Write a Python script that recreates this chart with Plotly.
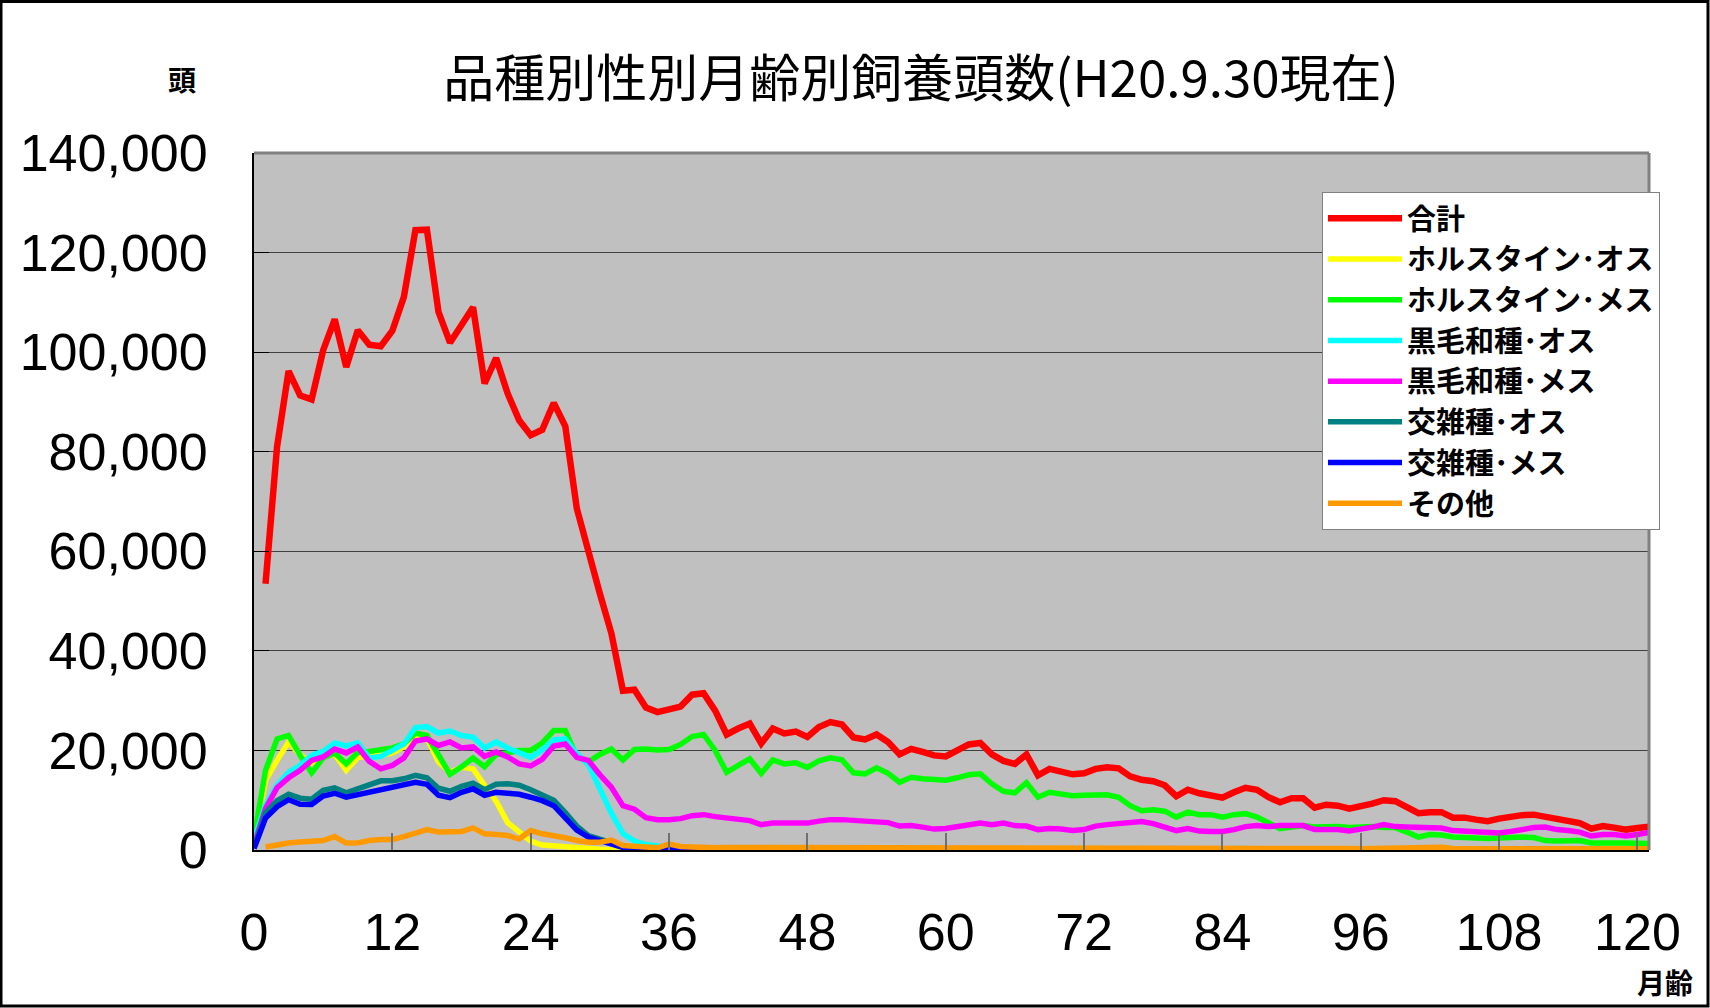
import plotly.graph_objects as go

# ---------------- data ----------------
months = list(range(0, 122))
x_tick_vals = [0, 12, 24, 36, 48, 60, 72, 84, 96, 108, 120]
y_tick_vals = [0, 20000, 40000, 60000, 80000, 100000, 120000, 140000]

series_names = ["合計", "ホルスタイン･オス", "ホルスタイン･メス", "黒毛和種･オス",
                "黒毛和種･メス", "交雑種･オス", "交雑種･メス", "その他"]
series_colors = ["#FF0000", "#FFFF00", "#00FF00", "#00FFFF",
                 "#FF00FF", "#008080", "#0000FF", "#FF9900"]

total = [None, 53500, 81000, 96200, 91300, 90500, 100400, 106600, 97000, 104400, 101500, 101200,
         104300, 111100, 124500, 124600, 108100, 101900, 105600, 109000, 93700, 98800, 91700, 86300,
         83300, 84400, 89800, 85100, 68600, 59800, 51500, 43500, 32000, 32200, 28600, 27700,
         28400, 28800, 31200, 31500, 28000, 23200, 24400, 25400, 21400, 24400, 23400, 23800,
         22700, 24700, 25700, 25200, 22600, 22200, 23200, 21700, 19200, 20300, 19700, 19000,
         18800, 20000, 21200, 21500, 19200, 17900, 17300, 19200, 15000, 16300, 15800, 15200,
         15400, 16300, 16600, 16400, 14800, 14100, 13800, 13000, 10800, 12100, 11400, 11100,
         10500, 11600, 12500, 12100, 10600, 9600, 10400, 10400, 8500, 9100, 8900, 8300,
         8700, 9300, 10000, 9800, 8600, 7400, 7600, 7600, 6500, 6500, 6100, 5800,
         6300, 6700, 7000, 7100, 6700, 6100, 5700, 5400, 4300, 4800, 4500, 4100,
         4400, 4700]

holstein_m = [1500, 14000, 18000, 21700, 19100, 17500, 18900, 19200, 16000, 18600, 18900, 19000,
              19500, 20700, 22500, 22500, 17700, 15600, 16600, 16300, 13000, 9800, 5500, 3500,
              1800, 1000, 800, 600, 450, 300, 150, 80, 40, 20, 10, 10,
              10, 10, 10, 10, 10, 10, 10, 10, 10, 10, 10, 10,
              10, 10, 10, 10, 10, 10, 10, 10, 10, 10, 10, 10,
              10, 10, 10, 10, 10, 10, 10, 10, 10, 10, 10, 10,
              10, 10, 10, 10, 10, 10, 10, 10, 10, 10, 10, 10,
              10, 10, 10, 10, 10, 10, 10, 10, 10, 10, 10, 10,
              10, 10, 10, 10, 10, 10, 10, 10, 10, 10, 10, 10,
              10, 10, 10, 10, 10, 10, 10, 10, 10, 10, 10, 10,
              10, 10]

holstein_f = [2500, 16000, 22300, 23000, 19000, 15500, 18500, 19500, 17300, 19600, 19800, 20200,
              20500, 21300, 23500, 23000, 19300, 15200, 16700, 18500, 16700, 19200, 19500, 20000,
              20000, 21500, 24000, 24000, 18700, 17700, 19200, 20300, 18100, 20200, 20300, 20100,
              20200, 21200, 22800, 23200, 20000, 15600, 17000, 18300, 15400, 18100, 17300, 17500,
              16600, 17900, 18500, 18100, 15500, 15300, 16500, 15400, 13600, 14600, 14300, 14200,
              14000, 14500, 15100, 15300, 13300, 11800, 11500, 13500, 10600, 11600, 11300, 10900,
              11000, 11000, 11100, 10600, 8900, 7900, 8100, 7800, 6600, 7600, 7100, 7100,
              6600, 7100, 7300, 6600, 5300, 4300, 4600, 4900, 4600, 4700, 4700, 4500,
              4600, 4700, 4500, 4500, 3600, 2600, 3100, 3000, 2600, 2600, 2400, 2300,
              2400, 2600, 2600, 2500, 1900, 1800, 1800, 1900, 1400, 1500, 1400, 1400,
              1300, 1300]

wagyu_m = [2000, 9000, 13000, 15600, 17000, 19000, 19800, 21500, 20900, 21500, 18500, 18800,
           20000, 21300, 24600, 24800, 23500, 23900, 23000, 22700, 20500, 21700, 20500, 19500,
           18600, 20100, 22100, 22300, 19300, 17200, 12000, 7400, 3300, 1800, 1100, 700,
           500, 300, 200, 150, 100, 100, 100, 100, 100, 100, 100, 100,
           80, 80, 80, 80, 80, 80, 80, 80, 80, 80, 80, 80,
           60, 60, 60, 60, 60, 60, 60, 60, 60, 60, 60, 60,
           50, 50, 50, 50, 50, 50, 50, 50, 50, 50, 50, 50,
           40, 40, 40, 40, 40, 40, 40, 40, 40, 40, 40, 40,
           30, 30, 30, 30, 30, 30, 30, 30, 30, 30, 30, 30,
           30, 30, 30, 30, 30, 30, 30, 30, 30, 30, 30, 30,
           30, 30]

wagyu_f = [1000, 8300, 12500, 14500, 16000, 18000, 18700, 20300, 19500, 20700, 17800, 16300,
           17000, 18500, 21900, 22300, 21000, 21700, 20500, 20700, 18800, 19700, 18700, 17300,
           16900, 18200, 20900, 21300, 18600, 18000, 15100, 12600, 8900, 8200, 6500, 6100,
           6100, 6300, 6900, 7100, 6700, 6500, 6300, 5900, 5100, 5400, 5400, 5400,
           5400, 5800, 6100, 6100, 5900, 5900, 5600, 5500, 4800, 4900, 4600, 4200,
           4300, 4600, 5100, 5400, 5100, 5400, 4900, 4800, 4100, 4300, 4200, 3900,
           4100, 4800, 5100, 5300, 5400, 5700, 5300, 4700, 3900, 4300, 3800, 3700,
           3700, 4100, 4700, 4900, 4700, 4900, 4900, 4900, 4100, 4100, 4100, 3800,
           4100, 4600, 5100, 4700, 4600, 4600, 4500, 4400, 3900, 3800, 3600, 3400,
           3400, 3700, 4100, 4500, 4600, 4100, 3900, 3600, 2800, 3100, 3100, 2800,
           3100, 3500]

cross_m = [500, 7500, 9900, 11200, 10400, 10200, 12000, 12500, 11500, 12300, 13100, 13900,
           13900, 14300, 15000, 14500, 12400, 11800, 12800, 13400, 12100, 13200, 13300, 13000,
           12100, 11150, 10000, 7500, 4800, 2900, 2200, 1500, 800, 400, 200, 100,
           100, 100, 100, 100, 80, 80, 80, 80, 80, 80, 80, 80,
           60, 60, 60, 60, 60, 60, 60, 60, 60, 60, 60, 60,
           50, 50, 50, 50, 50, 50, 50, 50, 50, 50, 50, 50,
           40, 40, 40, 40, 40, 40, 40, 40, 40, 40, 40, 40,
           30, 30, 30, 30, 30, 30, 30, 30, 30, 30, 30, 30,
           30, 30, 30, 30, 30, 30, 30, 30, 30, 30, 30, 30,
           20, 20, 20, 20, 20, 20, 20, 20, 20, 20, 20, 20,
           20, 20]

cross_f = [300, 6400, 8700, 10100, 9200, 9150, 10850, 11400, 10600, 11100, 11500, 12100,
           12600, 13100, 13600, 13200, 11000, 10500, 11600, 12300, 11000, 11600, 11500, 11200,
           10600, 9900, 8900, 6600, 4000, 2600, 1950, 1250, 500, 200, 100, 100,
           250, 100, 80, 80, 80, 80, 80, 80, 80, 80, 80, 80,
           60, 60, 60, 60, 60, 60, 60, 60, 60, 60, 60, 60,
           50, 50, 50, 50, 50, 50, 50, 50, 50, 50, 50, 50,
           40, 40, 40, 40, 40, 40, 40, 120, 40, 40, 40, 40,
           30, 30, 30, 30, 30, 30, 30, 30, 30, 30, 30, 30,
           30, 30, 30, 30, 30, 30, 30, 30, 30, 30, 30, 30,
           20, 20, 20, 20, 20, 20, 20, 20, 20, 20, 20, 20,
           20, 20]

other = [None, 600, 1100, 1400, 1600, 1800, 1900, 2700, 1400, 1400, 1900, 2100,
         2100, 2700, 3450, 4100, 3600, 3700, 3700, 4450, 3250, 3100, 2900, 2200,
         3900, 3250, 2900, 2450, 1900, 1550, 1550, 2000, 900, 700, 450, 450,
         1200, 700, 600, 450, 450, 500, 500, 550, 500, 500, 450, 500,
         500, 450, 500, 500, 450, 450, 500, 450, 400, 450, 450, 400,
         400, 400, 450, 450, 400, 400, 400, 400, 350, 400, 400, 350,
         350, 350, 350, 350, 350, 350, 350, 550, 350, 300, 300, 300,
         300, 300, 300, 300, 300, 300, 300, 550, 300, 300, 300, 300,
         250, 300, 300, 300, 300, 300, 300, 550, 300, 250, 250, 250,
         250, 250, 250, 250, 250, 250, 250, 250, 250, 250, 250, 250,
         250, 250]

all_series = [total, holstein_m, holstein_f, wagyu_m, wagyu_f, cross_m, cross_f, other]

# ---------------- layout geometry ----------------
W, H = 1710, 1008
ML, MR, MT, MB = 254, 61, 153, 158
PW = W - ML - MR
PH = H - MT - MB


def px_to_paper_x(px):
    return (px - ML) / PW


def px_to_paper_y(py):
    return (H - MB - py) / PH


fig = go.Figure()
for name, color, vals in zip(series_names, series_colors, all_series):
    fig.add_trace(go.Scatter(
        x=months, y=vals, mode="lines", name=name,
        line=dict(color=color, width=6.5 if name == "合計" else 5.5),
        connectgaps=False,
    ))

tick_font = dict(family="Liberation Sans Narrow, Arial Narrow, Liberation Sans, Arial, sans-serif",
                 size=52, color="black")
jp_font = "Noto Sans CJK JP, Noto Sans, sans-serif"

fig.update_layout(
    width=W, height=H,
    margin=dict(l=ML, r=MR, t=MT, b=MB, autoexpand=False),
    paper_bgcolor="white",
    plot_bgcolor="#C0C0C0",
    showlegend=True,
    legend=dict(
        x=px_to_paper_x(1322), y=px_to_paper_y(192), xanchor="left", yanchor="top",
        bgcolor="white", bordercolor="#808080", borderwidth=1,
        font=dict(family=jp_font, size=29, color="black", weight="bold"),
        itemwidth=74, tracegroupgap=0,
    ),
    title=dict(
        text="品種別性別月齢別飼養頭数(H20.9.30現在)",
        x=921 / W, y=1 - 79 / H, xanchor="center", yanchor="middle",
        font=dict(family=jp_font, size=51, color="black"),
    ),
    xaxis=dict(
        range=[0, 121], tickmode="array", tickvals=x_tick_vals,
        ticks="inside", ticklen=17, tickcolor="#707070", tickwidth=2,
        showgrid=False, zeroline=False,
        showline=True, linecolor="black", linewidth=2,
        tickfont=tick_font, ticklabelstandoff=36,
    ),
    yaxis=dict(
        range=[0, 140000], tickmode="array", tickvals=y_tick_vals,
        tickformat=",d",
        ticks="inside", ticklen=15, tickcolor="black", tickwidth=1,
        showgrid=True, gridcolor="#404040", gridwidth=1,
        zeroline=False,
        showline=True, linecolor="black", linewidth=2,
        tickfont=tick_font, ticklabelstandoff=34,
    ),
    annotations=[
        dict(text="<b>頭</b>", x=px_to_paper_x(182), y=px_to_paper_y(79),
             xref="paper", yref="paper", showarrow=False, xanchor="center", yanchor="middle",
             font=dict(family=jp_font, size=28, color="black")),
        dict(text="<b>月齢</b>", x=px_to_paper_x(1665), y=px_to_paper_y(982),
             xref="paper", yref="paper", showarrow=False, xanchor="center", yanchor="middle",
             font=dict(family=jp_font, size=28, color="black")),
    ],
    shapes=[
        # plot area top and right borders (gray)
        dict(type="line", xref="paper", yref="paper", x0=0, x1=1, y0=1, y1=1,
             line=dict(color="#808080", width=3), layer="above"),
        dict(type="line", xref="paper", yref="paper", x0=1, x1=1, y0=0, y1=1,
             line=dict(color="#808080", width=3), layer="above"),
        # outer chart border
        dict(type="rect", xref="paper", yref="paper",
             x0=px_to_paper_x(1), x1=px_to_paper_x(W - 2),
             y0=px_to_paper_y(H - 2), y1=px_to_paper_y(1.5),
             line=dict(color="black", width=3), fillcolor="rgba(0,0,0,0)", layer="above"),
    ],
)

fig.write_html("out.html",
               config={"displayModeBar": False},
               post_script="document.body.style.margin='0';document.body.style.overflow='hidden';")
